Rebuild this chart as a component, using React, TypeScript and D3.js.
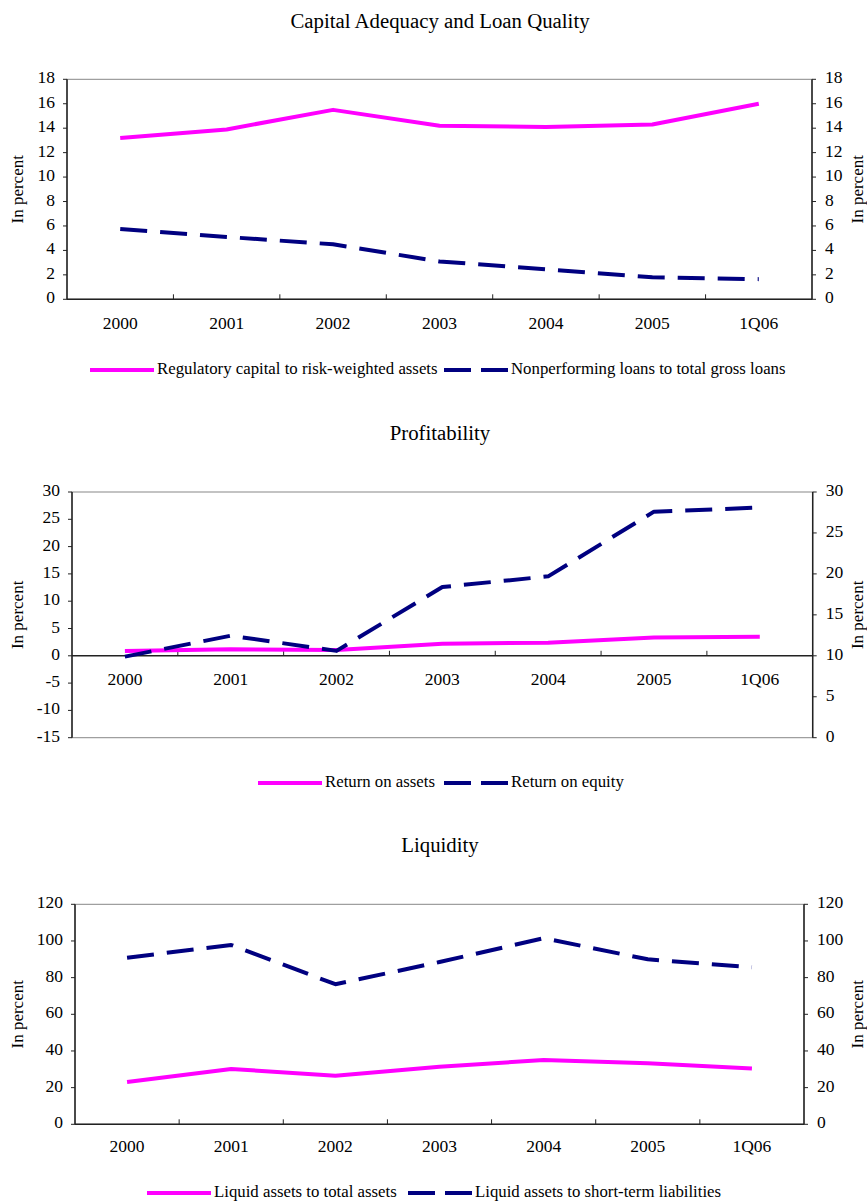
import React from "react";
import * as d3 from "d3";

const categories = ["2000", "2001", "2002", "2003", "2004", "2005", "1Q06"];

const capitalRatio = [13.2, 13.9, 15.5, 14.2, 14.1, 14.3, 16.0];
const nplRatio = [5.75, 5.1, 4.5, 3.1, 2.45, 1.8, 1.65];

const roa = [0.9, 1.2, 1.05, 2.2, 2.4, 3.35, 3.5];
const roe = [9.9, 12.45, 10.6, 18.4, 19.7, 27.6, 28.1];

const liqToAssets = [23.1, 30.2, 26.5, 31.4, 35.1, 33.3, 30.5];
const liqToSTL = [90.9, 97.8, 76.4, 88.5, 101.5, 90.0, 85.6];

const panel1Ticks = [0, 2, 4, 6, 8, 10, 12, 14, 16, 18];
const panel2LeftTicks = [-15, -10, -5, 0, 5, 10, 15, 20, 25, 30];
const panel2RightTicks = [0, 5, 10, 15, 20, 25, 30];
const panel3Ticks = [0, 20, 40, 60, 80, 100, 120];

const PINK = "#FF00FF";
const NAVY = "#000080";
const FONT = "'Liberation Serif', 'Times New Roman', serif";
const TICK_FS = 17.5;
const LEGEND_FS = 16.8;
const TITLE_FS = 20.8;
const YTITLE_FS = 17;

type Series = { name: string; values: number[]; color: string; dashed: boolean; axis: "left" | "right" };

type PanelProps = {
  title: string;
  titleY: number;
  left: number;
  right: number;
  top: number;
  bottom: number;
  leftDomain: [number, number];
  rightDomain: [number, number];
  leftTicks: number[];
  rightTicks: number[];
  xAxisValue: number;
  labelY: number;
  series: Series[];
  legendY: number;
  legendX: number[];
  legendSample: number;
};

function Panel(p: PanelProps) {
  const x = d3.scaleBand<string>().domain(categories).range([p.left, p.right]);
  const yL = d3.scaleLinear().domain(p.leftDomain).range([p.bottom, p.top]);
  const yR = d3.scaleLinear().domain(p.rightDomain).range([p.bottom, p.top]);
  const axisY = yL(p.xAxisValue);
  const cx = (c: string) => (x(c) as number) + x.bandwidth() / 2;
  const midY = (p.top + p.bottom) / 2;
  const boundaries = categories.slice(1).map((c) => x(c) as number);

  return (
    <g>
      <text x={440} y={p.titleY} textAnchor="middle" fontSize={TITLE_FS} fontFamily={FONT} dominantBaseline="middle">
        {p.title}
      </text>
      <rect x={p.left} y={p.top} width={p.right - p.left} height={p.bottom - p.top} fill="none" stroke="#888" strokeWidth={1} />
      <line x1={p.left} x2={p.left} y1={p.top} y2={p.bottom} stroke="#222" strokeWidth={1.5} />
      {p.leftTicks.map((t) => (
        <g key={"l" + t}>
          <line x1={p.left - 4} x2={p.left} y1={yL(t)} y2={yL(t)} stroke="#222" strokeWidth={1} />
          <text x={p.left - 12} y={yL(t)} textAnchor="end" dominantBaseline="middle" fontSize={TICK_FS} fontFamily={FONT}>
            {t}
          </text>
        </g>
      ))}
      <line x1={p.right} x2={p.right} y1={p.top} y2={p.bottom} stroke="#222" strokeWidth={1.5} />
      {p.rightTicks.map((t) => (
        <g key={"r" + t}>
          <line x1={p.right} x2={p.right + 4} y1={yR(t)} y2={yR(t)} stroke="#222" strokeWidth={1} />
          <text x={p.right + 13} y={yR(t)} textAnchor="start" dominantBaseline="middle" fontSize={TICK_FS} fontFamily={FONT}>
            {t}
          </text>
        </g>
      ))}
      <line x1={p.left} x2={p.right} y1={axisY} y2={axisY} stroke="#222" strokeWidth={1.5} />
      {boundaries.map((b, i) => (
        <line key={"xt" + i} x1={b} x2={b} y1={axisY} y2={axisY - 5} stroke="#222" strokeWidth={1} />
      ))}
      {categories.map((c) => (
        <text key={"xl" + c} x={cx(c)} y={p.labelY} textAnchor="middle" dominantBaseline="middle" fontSize={TICK_FS} fontFamily={FONT}>
          {c}
        </text>
      ))}
      <text
        transform={`translate(19,${midY}) rotate(-90)`}
        textAnchor="middle"
        dominantBaseline="middle"
        fontSize={YTITLE_FS}
        fontFamily={FONT}
      >
        In percent
      </text>
      <text
        transform={`translate(859,${midY}) rotate(-90)`}
        textAnchor="middle"
        dominantBaseline="middle"
        fontSize={YTITLE_FS}
        fontFamily={FONT}
      >
        In percent
      </text>
      {p.series.map((s) => {
        const ys = s.axis === "left" ? yL : yR;
        const line = d3
          .line<number>()
          .x((_, i) => cx(categories[i]))
          .y((v) => ys(v));
        return (
          <path
            key={s.name}
            d={line(s.values) || ""}
            fill="none"
            stroke={s.color}
            strokeWidth={4}
            strokeDasharray={s.dashed ? "27,13" : undefined}
            strokeLinejoin="round"
          />
        );
      })}
      {p.series.map((s, i) => {
        const lx = p.legendX[i];
        return (
          <g key={"lg" + s.name}>
            <line
              x1={lx}
              x2={lx + p.legendSample}
              y1={p.legendY}
              y2={p.legendY}
              stroke={s.color}
              strokeWidth={4}
              strokeDasharray={s.dashed ? "27,10" : undefined}
            />
            <text x={lx + p.legendSample + 3} y={p.legendY} dominantBaseline="middle" fontSize={LEGEND_FS} fontFamily={FONT}>
              {s.name}
            </text>
          </g>
        );
      })}
    </g>
  );
}

export default function App() {
  return (
    <svg width={867} height={1203} style={{ position: "absolute", left: 0, top: 0, background: "#fff" }}>
      <rect x={0} y={0} width={867} height={1203} fill="#fff" />
      <Panel
        title="Capital Adequacy and Loan Quality"
        titleY={23}
        left={67}
        right={812}
        top={79.3}
        bottom={299.3}
        leftDomain={[0, 18]}
        rightDomain={[0, 18]}
        leftTicks={panel1Ticks}
        rightTicks={panel1Ticks}
        xAxisValue={0}
        labelY={325}
        legendY={370}
        legendX={[90, 444]}
        legendSample={64}
        series={[
          { name: "Regulatory capital to risk-weighted assets", values: capitalRatio, color: PINK, dashed: false, axis: "left" },
          { name: "Nonperforming loans to total gross loans", values: nplRatio, color: NAVY, dashed: true, axis: "left" },
        ]}
      />
      <Panel
        title="Profitability"
        titleY={435}
        left={72}
        right={812.7}
        top={492}
        bottom={737.7}
        leftDomain={[-15, 30]}
        rightDomain={[0, 30]}
        leftTicks={panel2LeftTicks}
        rightTicks={panel2RightTicks}
        xAxisValue={0}
        labelY={681}
        legendY={783}
        legendX={[258, 444]}
        legendSample={64}
        series={[
          { name: "Return on assets", values: roa, color: PINK, dashed: false, axis: "left" },
          { name: "Return on equity", values: roe, color: NAVY, dashed: true, axis: "right" },
        ]}
      />
      <Panel
        title="Liquidity"
        titleY={847}
        left={75}
        right={804}
        top={904.3}
        bottom={1124.3}
        leftDomain={[0, 120]}
        rightDomain={[0, 120]}
        leftTicks={panel3Ticks}
        rightTicks={panel3Ticks}
        xAxisValue={0}
        labelY={1148}
        legendY={1193}
        legendX={[147, 408]}
        legendSample={64}
        series={[
          { name: "Liquid assets to total assets", values: liqToAssets, color: PINK, dashed: false, axis: "left" },
          { name: "Liquid assets to short-term liabilities", values: liqToSTL, color: NAVY, dashed: true, axis: "left" },
        ]}
      />
    </svg>
  );
}
